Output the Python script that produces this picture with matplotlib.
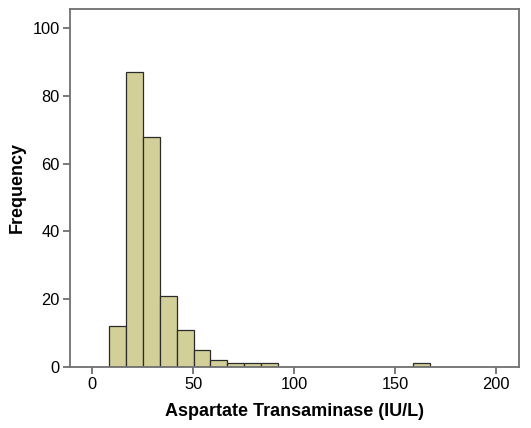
import numpy as np
import matplotlib
matplotlib.use("Agg")
import matplotlib.pyplot as plt

plt.rcParams['font.family'] = ['Liberation Sans', 'DejaVu Sans']

# histogram counts per bin (SPSS style, bin width ~8.35 starting at ~8.4)
counts = [12, 87, 68, 21, 11, 5, 2, 1, 1, 1, 0, 0, 0, 0, 0, 0, 0, 0, 1]
bin_start = 8.4
bin_width = 8.35
x_ticks = [0, 50, 100, 150, 200]
y_ticks = [0, 20, 40, 60, 80, 100]

fig = plt.figure(figsize=(5.31, 4.28), dpi=100)
ax = fig.add_axes([0.132, 0.143, 0.845, 0.837])

lefts = bin_start + bin_width * np.arange(len(counts))
ax.bar(lefts, counts, width=bin_width, align='edge',
       color='#d3cf98', edgecolor='#2b2b2b', linewidth=0.9)

ax.set_xlim(-11, 211.2)
ax.set_ylim(0, 105.8)
ax.set_xticks(x_ticks)
ax.set_yticks(y_ticks)

for s in ax.spines.values():
    s.set_color('#707070')
    s.set_linewidth(1.3)
ax.tick_params(axis='both', colors='#707070', labelcolor='black',
               labelsize=11.8, length=5, width=1.3, pad=2.5)

ax.set_xlabel('Aspartate Transaminase (IU/L)', fontsize=13, fontweight='bold', labelpad=8)
ax.set_ylabel('Frequency', fontsize=13, fontweight='bold', labelpad=5)

fig.savefig('out.png', dpi=100)
